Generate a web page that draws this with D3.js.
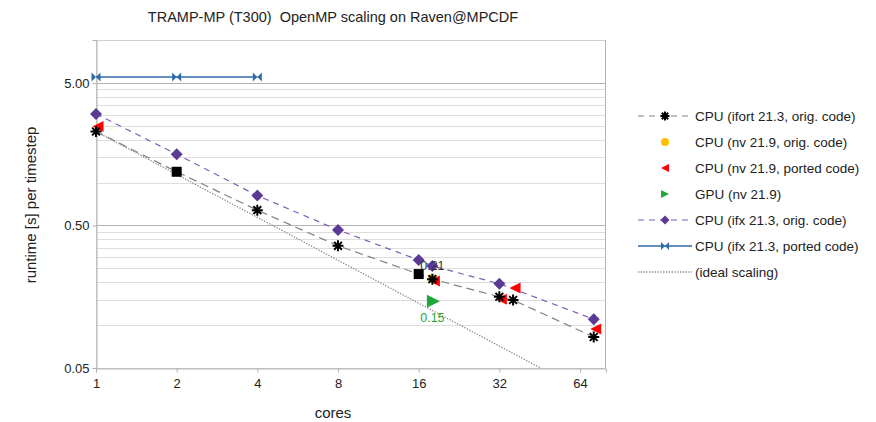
<!DOCTYPE html>
<html><head><meta charset="utf-8">
<script src="https://cdn.jsdelivr.net/npm/d3@7"></script>
<style>
body{margin:0;background:#fff;}
svg{font-family:"Liberation Sans",Arial,sans-serif;}
</style></head>
<body><svg id="c" width="876" height="422"></svg>
<script>
const title = "TRAMP-MP (T300)  OpenMP scaling on Raven@MPCDF";
const xTicks = [1, 2, 4, 8, 16, 32, 64];
const yTicks = [0.05, 0.5, 5];
const yMinorBases = [0.05, 0.5, 5];

// CPU (ifort 21.3, orig. code)
const ifortCores = [1, 2, 4, 8, 16, 18, 32, 36, 72];
const ifortTime  = [2.28, 1.19, 0.64, 0.36, 0.228, 0.21, 0.158, 0.15, 0.0825];
const ifortSym   = ["ast", "sq", "ast", "ast", "sq", "ast", "ast", "ast", "ast"];
// CPU (nv 21.9, orig. code)
const nvOrigCores = [18];
const nvOrigTime  = [0.212];
// CPU (nv 21.9, ported code)
const nvPortCores = [1, 18, 32, 36, 72];
const nvPortTime  = [2.47, 0.204, 0.152, 0.182, 0.094];
// GPU (nv 21.9)
const gpuCores = [18];
const gpuTime  = [0.147];
// CPU (ifx 21.3, orig. code)
const ifxCores = [1, 2, 4, 8, 16, 18, 32, 72];
const ifxTime  = [3.03, 1.58, 0.81, 0.465, 0.286, 0.26, 0.195, 0.11];
// CPU (ifx 21.3, ported code)
const ifxPortCores = [1, 2, 4];
const ifxPortTime  = [5.5, 5.5, 5.5];
// (ideal scaling)
const idealCores = [1, 2, 4, 8, 16, 32, 64];
const idealTime  = [2.28, 1.14, 0.57, 0.285, 0.1425, 0.0713, 0.0356];

const legendLabels = ["CPU (ifort 21.3, orig. code)", "CPU (nv 21.9, orig. code)", "CPU (nv 21.9, ported code)",
  "GPU (nv 21.9)", "CPU (ifx 21.3, orig. code)", "CPU (ifx 21.3, ported code)", "(ideal scaling)"];

const C = {gray:"#808080", black:"#000", orange:"#ffbf00", red:"#ff0000", green:"#1fa83a",
  purple:"#5b3a96", purpleLine:"#7a5fb5", blue:"#2f6aa8", ideal:"#888"};

const svg = d3.select("#c");
const L = 96, R = 606, T = 40, B = 368;
const x = d3.scaleLog().base(2).domain([1, 80]).range([L, R]);
const y = d3.scaleLog().domain([0.05, 10]).range([B, T]);

// title
svg.append("text").attr("x", 333).attr("y", 22).attr("text-anchor", "middle")
  .attr("font-size", 14.5).attr("fill", "#222").style("white-space", "pre").attr("xml:space", "preserve").text(title);

// minor gridlines
const minor = [];
yMinorBases.forEach(b => { for (let k = 1; k <= 9; k++) { const v = +(k * b).toFixed(4); if (v <= 10) minor.push(v); } });
svg.append("g").selectAll("line").data(minor).join("line")
  .attr("x1", L).attr("x2", R).attr("y1", d => Math.round(y(d)) + 0.5).attr("y2", d => Math.round(y(d)) + 0.5)
  .attr("stroke", "#dddddd").attr("stroke-width", 1);
svg.append("g").selectAll("line").data(yTicks).join("line")
  .attr("x1", L).attr("x2", R).attr("y1", d => Math.round(y(d)) + 0.5).attr("y2", d => Math.round(y(d)) + 0.5)
  .attr("stroke", "#b3b3b3").attr("stroke-width", 1);

// border
svg.append("rect").attr("x", L + 0.5).attr("y", T + 0.5).attr("width", R - L - 1).attr("height", B - T)
  .attr("fill", "none").attr("stroke", "#d0d0d0");
svg.append("line").attr("x1", R - 0.5).attr("x2", R - 0.5).attr("y1", T).attr("y2", B).attr("stroke", "#b3b3b3");

// axes
const xa = svg.append("g").attr("transform", `translate(0,${Math.round(B) + 0.5})`)
  .call(d3.axisBottom(x).tickValues(xTicks).tickFormat(d3.format("d")).tickSize(4).tickPadding(3));
const ya = svg.append("g").attr("transform", `translate(${L + 0.5},0)`)
  .call(d3.axisLeft(y).tickValues(yTicks).tickFormat(d3.format(".2f")).tickSize(4).tickPadding(3));
[xa, ya].forEach(a => {
  a.select(".domain").attr("stroke", "#b3b3b3");
  a.selectAll(".tick line").attr("stroke", "#b3b3b3");
  a.selectAll(".tick text").attr("font-size", 13).attr("fill", "#222").attr("font-family", "Liberation Sans, Arial, sans-serif");
});
xa.selectAll(".tick text").attr("dy", "0.95em");

// axis titles
svg.append("text").attr("x", 333).attr("y", 418).attr("text-anchor", "middle").attr("font-size", 15).attr("fill", "#222").text("cores");
svg.append("text").attr("transform", "translate(36,205) rotate(-90)").attr("text-anchor", "middle")
  .attr("font-size", 15).attr("fill", "#222").text("runtime [s] per timestep");

// clip
svg.append("clipPath").attr("id", "clip").append("rect").attr("x", L).attr("y", T).attr("width", R - L).attr("height", B - T);
const plot = svg.append("g").attr("clip-path", "url(#clip)");

const line = d3.line().x(d => x(d[0])).y(d => y(d[1]));
const zip = (a, b) => a.map((v, i) => [v, b[i]]);

// lines
plot.append("path").datum(zip(idealCores, idealTime)).attr("d", line).attr("fill", "none")
  .attr("stroke", C.ideal).attr("stroke-width", 1.3).attr("stroke-dasharray", "1.3,1.5");
plot.append("path").datum(zip(ifortCores, ifortTime)).attr("d", line).attr("fill", "none")
  .attr("stroke", C.gray).attr("stroke-width", 1.2).attr("stroke-dasharray", "8,5");
plot.append("path").datum(zip(ifxCores, ifxTime)).attr("d", line).attr("fill", "none")
  .attr("stroke", C.purpleLine).attr("stroke-width", 1.2).attr("stroke-dasharray", "6,5");
plot.append("path").datum(zip(ifxPortCores, ifxPortTime)).attr("d", line).attr("fill", "none")
  .attr("stroke", C.blue).attr("stroke-width", 1.5);

// marker drawers
function ast(g, cx, cy, s) {
  const r = s / 2;
  const p = d3.path();
  for (let i = 0; i < 4; i++) {
    const a = i * Math.PI / 4;
    p.moveTo(cx - r * Math.cos(a), cy - r * Math.sin(a)); p.lineTo(cx + r * Math.cos(a), cy + r * Math.sin(a));
  }
  g.append("path").attr("d", p.toString()).attr("stroke", C.black).attr("stroke-width", 2).attr("fill", "none");
}
function sq(g, cx, cy, s, col) { g.append("rect").attr("x", cx - s / 2).attr("y", cy - s / 2).attr("width", s).attr("height", s).attr("fill", col); }
function diamond(g, cx, cy, s, col) {
  g.append("path").attr("d", `M${cx},${cy - s / 2}L${cx + s / 2},${cy}L${cx},${cy + s / 2}L${cx - s / 2},${cy}Z`).attr("fill", col);
}
function triL(g, cx, cy, s, col) {
  g.append("path").attr("d", `M${cx - s / 2},${cy}L${cx + s / 2},${cy - s / 2}L${cx + s / 2},${cy + s / 2}Z`).attr("fill", col);
}
function triR(g, cx, cy, s, col) {
  g.append("path").attr("d", `M${cx + s / 2},${cy}L${cx - s / 2},${cy - s / 2}L${cx - s / 2},${cy + s / 2}Z`).attr("fill", col);
}
function circ(g, cx, cy, s, col) { g.append("circle").attr("cx", cx).attr("cy", cy).attr("r", s / 2).attr("fill", col); }
function bow(g, cx, cy, s, col) {
  const h = s / 2;
  g.append("path").attr("d", `M${cx - h},${cy - h}L${cx},${cy}L${cx - h},${cy + h}ZM${cx + h},${cy - h}L${cx},${cy}L${cx + h},${cy + h}Z`).attr("fill", col);
}

const mk = svg.append("g");
nvOrigCores.forEach((c, i) => circ(mk, x(c), y(nvOrigTime[i]), 9, C.orange));
nvPortCores.forEach((c, i) => triL(mk, x(c) + 2, y(nvPortTime[i]), 11, C.red));
ifortCores.forEach((c, i) => {
  if (ifortSym[i] === "sq") sq(mk, x(c), y(ifortTime[i]), 10, C.black);
  else ast(mk, x(c), y(ifortTime[i]), 11);
});
ifxCores.forEach((c, i) => diamond(mk, x(c), y(ifxTime[i]), 12, C.purple));
ifxPortCores.forEach((c, i) => bow(mk, x(c), y(ifxPortTime[i]), 9, C.blue));
gpuCores.forEach((c, i) => triR(mk, x(c) + 1, y(gpuTime[i]), 13, C.green));

// data labels
svg.append("text").attr("x", x(18)).attr("y", y(ifortTime[5]) - 9).attr("text-anchor", "middle")
  .attr("font-size", 12.5).attr("fill", "#333").text(d3.format(".2f")(ifortTime[5]));
svg.append("text").attr("x", x(18)).attr("y", y(gpuTime[0]) + 21).attr("text-anchor", "middle")
  .attr("font-size", 12.5).attr("fill", C.green).text(d3.format(".2f")(gpuTime[0]));

// legend
const lg = svg.append("g");
const ly0 = 116, ldy = 26, lx1 = 638, lx2 = 692, lmx = 665, ltx = 695;
legendLabels.forEach((t, i) => {
  const yy = ly0 + i * ldy;
  const g = lg.append("g");
  if (i === 0) { g.append("line").attr("x1", lx1).attr("x2", lx2).attr("y1", yy).attr("y2", yy).attr("stroke", C.gray).attr("stroke-dasharray", "6,5").attr("stroke-width", 1.2); ast(g, lmx, yy, 9); }
  if (i === 1) circ(g, lmx, yy, 8, C.orange);
  if (i === 2) triL(g, lmx, yy, 8, C.red);
  if (i === 3) triR(g, lmx, yy, 8, C.green);
  if (i === 4) { g.append("line").attr("x1", lx1).attr("x2", lx2).attr("y1", yy).attr("y2", yy).attr("stroke", C.purpleLine).attr("stroke-dasharray", "6,5").attr("stroke-width", 1.2); diamond(g, lmx, yy, 9, C.purple); }
  if (i === 5) { g.append("line").attr("x1", lx1).attr("x2", lx2).attr("y1", yy).attr("y2", yy).attr("stroke", C.blue).attr("stroke-width", 1.5); bow(g, lmx, yy, 8, C.blue); }
  if (i === 6) g.append("line").attr("x1", lx1).attr("x2", lx2).attr("y1", yy).attr("y2", yy).attr("stroke", C.ideal).attr("stroke-dasharray", "1.3,1.5").attr("stroke-width", 1.3);
  g.append("text").attr("x", ltx).attr("y", yy).attr("dy", "0.35em").attr("font-size", 13.5).attr("fill", "#222").text(t);
});
</script></body></html>
